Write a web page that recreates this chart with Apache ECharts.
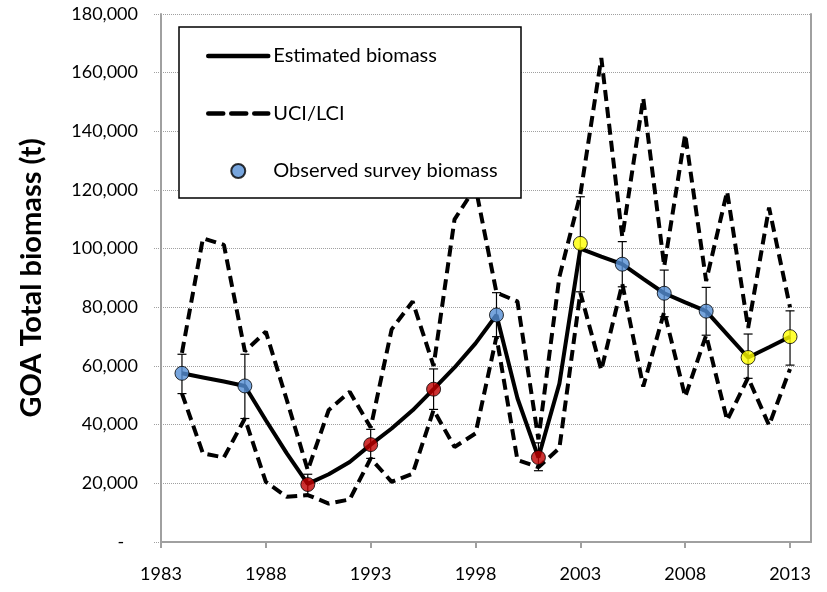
<!DOCTYPE html>
<html>
<head>
<meta charset="utf-8">
<script src="https://cdn.jsdelivr.net/npm/echarts@6/dist/echarts.min.js"></script>
<style>
  html, body { margin: 0; padding: 0; background: #ffffff; }
  #chart { width: 827px; height: 592px; }
</style>
</head>
<body>
<div id="chart"></div>
<script>
// Model years and annual estimates with confidence bounds (t)
const years = [1984, 1985, 1986, 1987, 1988, 1989, 1990, 1991, 1992, 1993,
               1994, 1995, 1996, 1997, 1998, 1999, 2000, 2001, 2002, 2003,
               2004, 2005, 2006, 2007, 2008, 2009, 2010, 2011, 2012, 2013];
const estimated = [57500, 56100, 54700, 53200, 41500, 30200, 19800, 23100, 27300, 33200,
                   38700, 44900, 52100, 59500, 67700, 77400, 49000, 28800, 54000, 100000,
                   97300, 94700, 89700, 84800, 81700, 78700, 70800, 62900, 66400, 70000];
const uci = [64500, 103500, 101300, 65000, 71700, 48400, 24500, 45000, 51200, 39000,
             72500, 82000, 60000, 110000, 121000, 85000, 82000, 35000, 90400, 118500,
             165000, 104000, 151300, 94000, 139000, 89000, 119500, 73000, 114000, 80000];
const lci = [50600, 30200, 28800, 42100, 20500, 15400, 16000, 13100, 14500, 28500,
             20500, 23300, 45000, 32400, 37000, 70000, 27900, 25500, 32000, 85000,
             58600, 88000, 53000, 78500, 49500, 70500, 41500, 56000, 39800, 59000];

// Survey observations with their error-bar limits (t)
const surveyYears = [1984, 1987, 1990, 1993, 1996, 1999, 2001, 2003, 2005, 2007, 2009, 2011, 2013];
const surveyBiomass = [57500, 53200, 19600, 33200, 52100, 77400, 28800, 101800, 94700, 84800, 78700, 62900, 70000];
const surveyLow = [50600, 42100, 15800, 28500, 45200, 70000, 24300, 85300, 87000, 76800, 70500, 55800, 60300];
const surveyHigh = [64000, 64000, 23100, 38400, 59000, 85000, 33800, 117700, 102400, 92700, 86800, 70900, 78800];

// Axis ticks
const xTickLabels = [1983, 1988, 1993, 1998, 2003, 2008, 2013];
const yTickMax = 180000;
const yTickStep = 20000;

// Marker fill per survey point
const BLUE = '#558ED5', RED = '#C00000', YELLOW = '#FFFF00';
const surveyFill = [BLUE, BLUE, RED, RED, RED, BLUE, RED, YELLOW, BLUE, BLUE, BLUE, YELLOW, YELLOW];

const FONT = 'Lato';
const AXIS_GRAY = '#A0A0A0';
const DASH = [11, 6];

const pair = (xs, ys) => xs.map((x, i) => [x, ys[i]]);

const chart = echarts.init(document.getElementById('chart'), null, { renderer: 'canvas' });

chart.setOption({
  animation: false,
  backgroundColor: '#ffffff',
  textStyle: { fontFamily: FONT },
  grid: { left: 161, right: 16, top: 14, bottom: 50, containLabel: false },
  xAxis: {
    type: 'value',
    min: 1983,
    max: 2014,
    interval: 5,
    axisLine: { show: true, lineStyle: { color: AXIS_GRAY, width: 2 } },
    axisTick: { show: true, length: 6, lineStyle: { color: AXIS_GRAY, width: 2 },
                customValues: xTickLabels },
    axisLabel: { color: '#000', fontSize: 18, fontFamily: FONT, margin: 23,
                 customValues: xTickLabels, formatter: v => String(v) },
    splitLine: { show: false }
  },
  yAxis: [{
    type: 'value',
    min: 0,
    max: yTickMax,
    interval: yTickStep,
    name: 'GOA Total biomass (t)',
    nameLocation: 'middle',
    nameRotate: 90,
    nameGap: 115,
    nameTextStyle: { fontSize: 29, fontWeight: 'bold', color: '#000', fontFamily: FONT },
    axisLine: { show: true, lineStyle: { color: AXIS_GRAY, width: 2 } },
    axisTick: { show: true, length: 7, lineStyle: { color: AXIS_GRAY, type: 'dotted' } },
    axisLabel: {
      color: '#000', fontSize: 18, fontFamily: FONT, margin: 23,
      formatter: v => v === 0 ? '-   ' : v.toLocaleString('en-US')
    },
    splitLine: { show: true, lineStyle: { color: AXIS_GRAY, type: 'dotted', width: 1 } }
  }, {
    type: 'value',
    position: 'right',
    min: 0,
    max: yTickMax,
    interval: yTickStep,
    axisLine: { show: true, lineStyle: { color: AXIS_GRAY, width: 2 } },
    axisTick: { show: false },
    axisLabel: { show: false },
    splitLine: { show: false }
  }],
  legend: {
    orient: 'vertical',
    left: 206,
    top: 46,
    padding: 0,
    itemWidth: 60,
    itemHeight: 14,
    itemGap: 37.5,
    z: 20,
    selectedMode: false,
    textStyle: { fontSize: 20, color: '#000', fontFamily: FONT },
    data: [
      { name: 'Estimated biomass', itemStyle: { opacity: 0 },
        lineStyle: { width: 4.5, type: 'solid', cap: 'round' } },
      { name: 'UCI/LCI', itemStyle: { opacity: 0 },
        lineStyle: { width: 4.5, type: [15, 8], cap: 'round' } },
      { name: 'Observed survey biomass', icon: 'circle' }
    ]
  },
  graphic: [{
    type: 'rect',
    z: 10,
    shape: { x: 179, y: 27, width: 342, height: 171 },
    style: { fill: '#ffffff', stroke: '#000000', lineWidth: 1.5 }
  }],
  series: [
    {
      name: 'UCI/LCI',
      type: 'line',
      z: 2,
      symbol: 'none',
      data: pair(years, uci),
      itemStyle: { color: '#000' },
      lineStyle: { color: '#000', width: 4, type: DASH }
    },
    {
      name: 'UCI/LCI',
      type: 'line',
      z: 2,
      symbol: 'none',
      data: pair(years, lci),
      itemStyle: { color: '#000' },
      lineStyle: { color: '#000', width: 4, type: DASH }
    },
    {
      name: 'Estimated biomass',
      type: 'line',
      z: 3,
      symbol: 'none',
      data: pair(years, estimated),
      itemStyle: { color: '#000' },
      lineStyle: { color: '#000', width: 4, type: 'solid' }
    },
    {
      name: 'Error bars',
      type: 'custom',
      z: 4,
      data: surveyYears.map((y, i) => [y, surveyLow[i], surveyHigh[i]]),
      renderItem: (params, api) => {
        const x = api.value(0);
        const lo = api.coord([x, api.value(1)]);
        const hi = api.coord([x, api.value(2)]);
        const w = 4.5;
        const st = { stroke: '#000', lineWidth: 1.2 };
        return {
          type: 'group',
          children: [
            { type: 'line', shape: { x1: lo[0], y1: lo[1], x2: hi[0], y2: hi[1] }, style: st },
            { type: 'line', shape: { x1: lo[0] - w, y1: lo[1], x2: lo[0] + w, y2: lo[1] }, style: st },
            { type: 'line', shape: { x1: hi[0] - w, y1: hi[1], x2: hi[0] + w, y2: hi[1] }, style: st }
          ]
        };
      }
    },
    {
      name: 'Observed survey biomass',
      type: 'scatter',
      z: 5,
      symbol: 'circle',
      symbolSize: 14,
      itemStyle: { color: BLUE, borderColor: '#000', borderWidth: 1 },
      data: surveyYears.map((y, i) => ({
        value: [y, surveyBiomass[i]],
        itemStyle: { color: surveyFill[i] }
      }))
    }
  ]
});
</script>
</body>
</html>
